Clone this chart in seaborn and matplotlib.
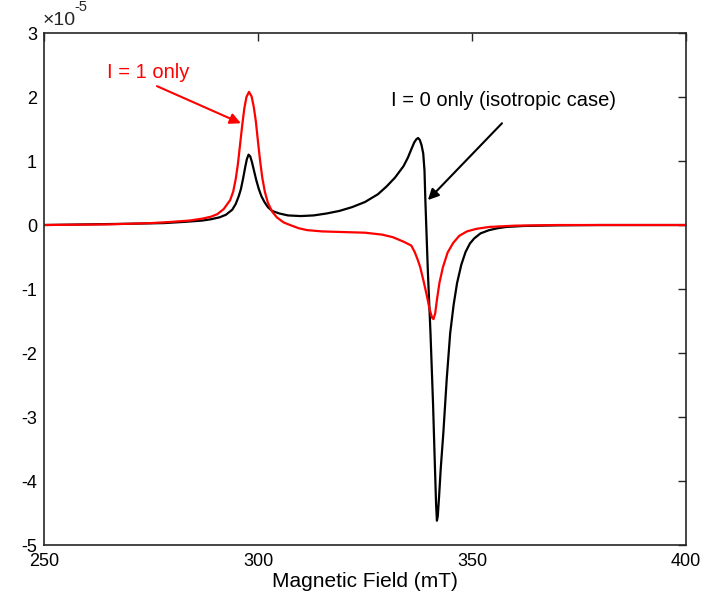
import numpy as np
import pandas as pd
import matplotlib
matplotlib.use("Agg")
import matplotlib.pyplot as plt
import seaborn as sns
from matplotlib.ticker import FuncFormatter

# values, y in units of 1e-5
field_iso = [250, 260, 270, 278, 283, 287, 289, 291, 292.5, 294, 294.8, 295.5, 296, 296.5,
             297, 297.4, 297.8, 298.2, 298.6, 299.1, 299.6, 300.2, 300.8, 301.5, 302.3, 303.3,
             305, 307, 310, 313, 316, 319, 322, 325, 328, 330, 332, 334, 335, 335.8, 336.5,
             337, 337.4, 337.8, 338.2, 338.6, 338.9, 339.1, 339.7, 340.3, 340.9, 341.3, 341.6,
             341.8, 342.0, 342.3, 342.7, 343.3, 344.1, 344.9, 345.7, 346.5, 347.5, 348.5,
             349.5, 350.5, 352, 354, 356, 358, 362, 370, 380, 400]
signal_iso = [0, 0.01, 0.02, 0.03, 0.05, 0.07, 0.09, 0.12, 0.16, 0.24, 0.33, 0.45, 0.56, 0.72,
              0.90, 1.03, 1.10, 1.07, 0.98, 0.84, 0.70, 0.56, 0.45, 0.36, 0.28, 0.22,
              0.18, 0.15, 0.14, 0.15, 0.18, 0.22, 0.28, 0.36, 0.48, 0.60, 0.74, 0.92, 1.05, 1.18, 1.29,
              1.34, 1.36, 1.33, 1.25, 1.12, 0.85, 0.39, -0.75, -1.69, -2.80, -3.70, -4.35,
              -4.62, -4.55, -4.25, -3.80, -3.25, -2.40, -1.69, -1.25, -0.91, -0.62, -0.42,
              -0.29, -0.21, -0.13, -0.08, -0.05, -0.03, -0.015, -0.005, 0, 0]

field_i1 = [250, 265, 275, 280, 284, 287, 289, 290.5, 292, 293.5, 294.2, 294.8, 295.3, 295.8,
            296.3, 296.8, 297.3, 297.9, 298.5, 299, 299.5, 300, 300.5, 301, 301.6, 302.3,
            303.3, 304.4, 306, 307.5, 309.5, 311.5, 315, 320, 325, 329, 331.5, 334, 335.8,
            336.6, 337.3, 337.9, 338.7, 339.5, 340.1, 340.7, 341.0, 341.4, 341.8, 342.4,
            343.2, 344.3, 345.6, 347, 348.8, 351, 354, 360, 370, 400]
signal_i1 = [0, 0.01, 0.03, 0.05, 0.07, 0.10, 0.13, 0.17, 0.25, 0.39, 0.52, 0.72, 0.95, 1.25,
             1.55, 1.82, 2.00, 2.08, 2.01, 1.85, 1.62, 1.30, 1.00, 0.74, 0.52, 0.35,
             0.21, 0.12, 0.04, 0.0, -0.05, -0.08, -0.10, -0.11, -0.12, -0.15, -0.19, -0.26, -0.32,
             -0.42, -0.54, -0.66, -0.88, -1.12, -1.32, -1.45, -1.47, -1.38, -1.17, -0.90,
             -0.66, -0.43, -0.28, -0.17, -0.10, -0.06, -0.03, -0.01, 0, 0]

iso = pd.DataFrame({"field": field_iso, "signal": np.array(signal_iso) * 1e-5})
i1 = pd.DataFrame({"field": field_i1, "signal": np.array(signal_i1) * 1e-5})

sns.set_style("white")
plt.rcParams["font.family"] = ["Liberation Sans", "DejaVu Sans"]
plt.rcParams["axes.unicode_minus"] = False

fig = plt.figure(figsize=(7.06, 5.95), dpi=100)
ax = fig.add_axes([0.0623, 0.084, 0.9094, 0.8605])

sns.lineplot(data=iso, x="field", y="signal", color="black", linewidth=1.6, ax=ax)
sns.lineplot(data=i1, x="field", y="signal", color="red", linewidth=1.6, ax=ax)

ax.set_xlim(250, 400)
ax.set_ylim(-5e-5, 3e-5)
ax.set_xticks([250, 300, 350, 400])
ax.set_yticks(np.arange(-5, 4) * 1e-5)
ax.yaxis.set_major_formatter(FuncFormatter(lambda v, p: "%d" % round(v / 1e-5)))

ax.tick_params(direction="in", length=6, width=1, labelsize=13, top=True, right=True,
               colors="#262626", labelcolor="black")
ax.tick_params(axis="x", pad=6)
ax.tick_params(axis="y", pad=5)
for s in ax.spines.values():
    s.set_color("#262626")
    s.set_linewidth(1.2)

ax.set_xlabel("Magnetic Field (mT)", fontsize=15, labelpad=1, color="black")
ax.set_ylabel("")

# exponent label above the y axis
ax.text(-0.002, 1.008, "×10", transform=ax.transAxes, fontsize=14, ha="left", va="bottom")
ax.text(0.047, 1.038, "-5", transform=ax.transAxes, fontsize=10.5, ha="left", va="bottom")

ax.text(264.7, 2.39e-5, "I = 1 only", fontsize=14.5, color="red", va="center", ha="left")
ax.annotate("", xy=(296.0, 1.59e-5), xytext=(276.4, 2.17e-5),
            arrowprops=dict(arrowstyle="-|>", color="red", lw=1.5,
                            mutation_scale=16, shrinkA=0, shrinkB=0))
ax.text(331.1, 1.95e-5, "I = 0 only (isotropic case)", fontsize=14.5, color="black",
        va="center", ha="left")
ax.annotate("", xy=(339.7, 0.39e-5), xytext=(357.0, 1.59e-5),
            arrowprops=dict(arrowstyle="-|>", color="black", lw=1.5,
                            mutation_scale=16, shrinkA=0, shrinkB=0))

fig.savefig("out.png", dpi=100)
